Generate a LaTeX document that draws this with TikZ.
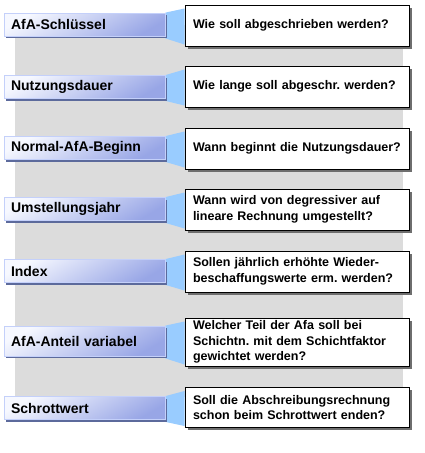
\documentclass[tikz,border=0pt]{standalone}
\usepackage{fontspec}
\setmainfont{Liberation Sans}
\usetikzlibrary{calc,shadows}
\pgfdeclarelayer{bg}
\pgfdeclarelayer{mid}
\pgfsetlayers{bg,mid,main}
\definecolor{panelgray}{HTML}{DCDCDC}
\definecolor{linkblue}{HTML}{99CCFF}
\definecolor{lboxlight}{HTML}{F6F8FF}
\definecolor{lboxdark}{HTML}{98A6E6}
\definecolor{lboxedge}{HTML}{C4D0FA}
\definecolor{lshadow}{HTML}{5C6A9C}
\definecolor{rshadow}{HTML}{6E6E6E}
\tikzset{
  lbox/.style={rectangle, inner xsep=7pt, inner ysep=0pt, text width=147pt,
    align=left, minimum height=23pt, font=\fontsize{14}{15}\selectfont\bfseries,
    top color=lboxlight, bottom color=lboxdark, shading angle=30,
    draw=lboxedge, line width=0.8pt,
    drop shadow={shadow xshift=2pt, shadow yshift=-2pt, fill=lshadow, opacity=1}},
  rbox/.style={rectangle, inner xsep=8pt, inner ysep=0pt, text width=208pt,
    align=left, minimum height=41pt, font=\fontsize{12.5}{15.5}\selectfont\bfseries,
    fill=white, draw=black, line width=1pt,
    drop shadow={shadow xshift=3pt, shadow yshift=-2.5pt, fill=rshadow, opacity=1}},
  linkshape/.style={fill=linkblue, draw=none}
}
\frenchspacing
\begin{document}
\begin{tikzpicture}[x=1pt,y=-1pt]
\useasboundingbox (0,0) rectangle (425,453);
\begin{pgfonlayer}{bg}
  \fill[panelgray] (15,25) rectangle (403,397);
\end{pgfonlayer}

\node[lbox] (L1) at (84.5,24.5) {AfA-Schlüssel};
\node[rbox] (R1) at (297,25.5) {Wie soll abgeschrieben werden?};

\node[lbox] (L2) at (84.5,87) {Nutzungsdauer};
\node[rbox] (R2) at (297,86.5) {Wie lange soll abgeschr. werden?};

\node[lbox] (L3) at (84.5,148) {Normal-AfA-Beginn};
\node[rbox] (R3) at (297,148.5) {Wann beginnt die Nutzungsdauer?};

\node[lbox] (L4) at (84.5,209) {Umstellungsjahr};
\node[rbox] (R4) at (297,209.5) {Wann wird von degressiver auf\\lineare Rechnung umgestellt?};

\node[lbox] (L5) at (84.5,271) {Index};
\node[rbox] (R5) at (297,271.5) {Sollen jährlich erhöhte Wieder-\\beschaffungswerte erm. werden?};

\node[lbox, minimum height=30pt] (L6) at (84.5,341) {AfA-Anteil variabel};
\node[rbox, minimum height=48pt] (R6) at (297,342) {Welcher Teil der Afa soll bei\\Schichtn. mit dem Schichtfaktor\\gewichtet werden?};

\node[lbox] (L7) at (84.5,408) {Schrottwert};
\node[rbox, minimum height=40pt] (R7) at (297,407.5) {Soll die Abschreibungsrechnung\\schon beim Schrottwert enden?};

\begin{pgfonlayer}{mid}
\foreach \i in {1,...,7}{
  \fill[linkshape] (L\i.north east) -- ($(R\i.north west)+(0,4)$)
    -- ($(R\i.south west)+(0,-2)$) -- ($(L\i.south east)+(0,2)$) -- cycle;
}
\end{pgfonlayer}
\end{tikzpicture}
\end{document}
